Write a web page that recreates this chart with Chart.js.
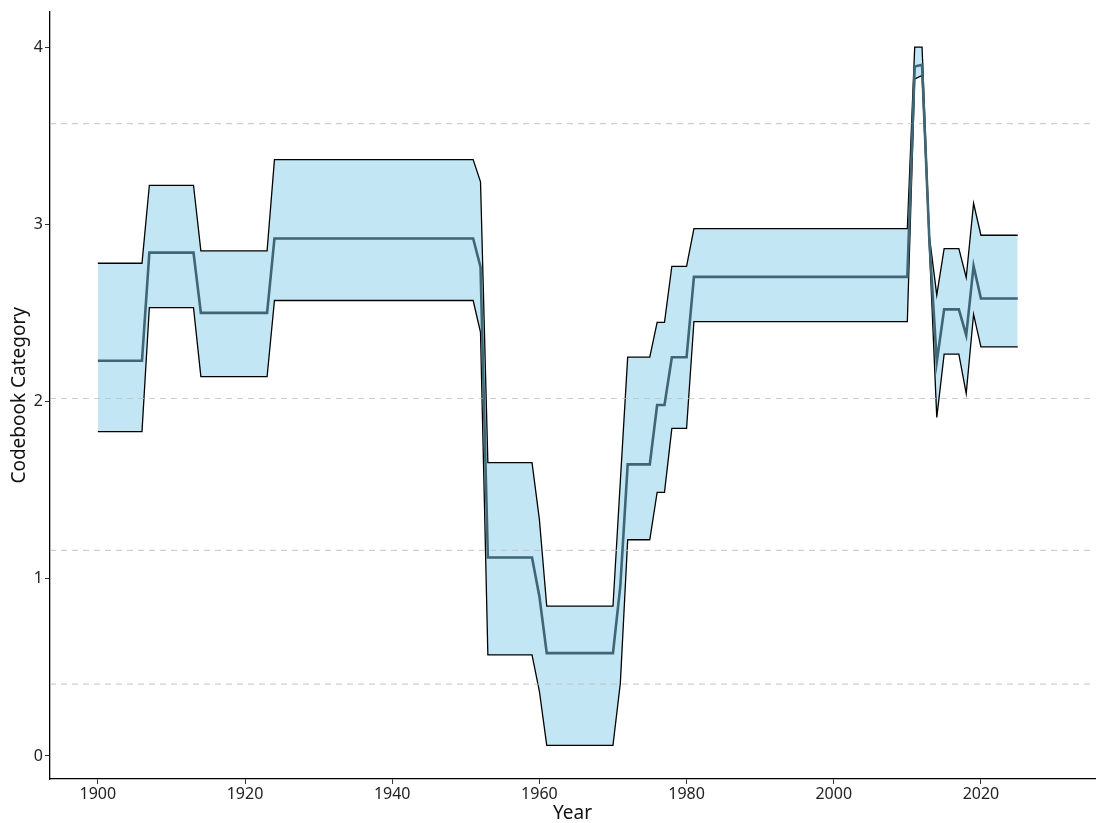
<!DOCTYPE html>
<html>
<head>
<meta charset="utf-8">
<script src="https://cdn.jsdelivr.net/npm/chart.js@4/dist/chart.umd.min.js"></script>
<style>
  body { margin: 0; background: #fff; }
</style>
</head>
<body>
<canvas id="chart" width="1097" height="823"></canvas>
<script>
const years = [
  1900,1901,1902,1903,1904,1905,1906,1907,1908,1909,1910,1911,1912,1913,1914,1915,1916,1917,1918,1919,
  1920,1921,1922,1923,1924,1925,1926,1927,1928,1929,1930,1931,1932,1933,1934,1935,1936,1937,1938,1939,
  1940,1941,1942,1943,1944,1945,1946,1947,1948,1949,1950,1951,1952,1953,1954,1955,1956,1957,1958,1959,
  1960,1961,1962,1963,1964,1965,1966,1967,1968,1969,1970,1971,1972,1973,1974,1975,1976,1977,1978,1979,
  1980,1981,1982,1983,1984,1985,1986,1987,1988,1989,1990,1991,1992,1993,1994,1995,1996,1997,1998,1999,
  2000,2001,2002,2003,2004,2005,2006,2007,2008,2009,2010,2011,2012,2013,2014,2015,2016,2017,2018,2019,
  2020,2021,2022,2023,2024,2025
];

const upper = [
  2.78,2.78,2.78,2.78,2.78,2.78,2.78,3.22,3.22,3.22,3.22,3.22,3.22,3.22,2.85,2.85,2.85,2.85,2.85,2.85,
  2.85,2.85,2.85,2.85,3.365,3.365,3.365,3.365,3.365,3.365,3.365,3.365,3.365,3.365,3.365,3.365,3.365,3.365,3.365,3.365,
  3.365,3.365,3.365,3.365,3.365,3.365,3.365,3.365,3.365,3.365,3.365,3.365,3.24,1.655,1.655,1.655,1.655,1.655,1.655,1.655,
  1.335,0.845,0.845,0.845,0.845,0.845,0.845,0.845,0.845,0.845,0.845,1.55,2.25,2.25,2.25,2.25,2.447,2.447,2.763,2.763,
  2.763,2.976,2.976,2.976,2.976,2.976,2.976,2.976,2.976,2.976,2.976,2.976,2.976,2.976,2.976,2.976,2.976,2.976,2.976,2.976,
  2.976,2.976,2.976,2.976,2.976,2.976,2.976,2.976,2.976,2.976,2.976,4.0,4.0,2.93,2.60,2.863,2.863,2.863,2.70,3.118,
  2.938,2.938,2.938,2.938,2.938,2.938
];

const mean = [
  2.23,2.23,2.23,2.23,2.23,2.23,2.23,2.84,2.84,2.84,2.84,2.84,2.84,2.84,2.50,2.50,2.50,2.50,2.50,2.50,
  2.50,2.50,2.50,2.50,2.92,2.92,2.92,2.92,2.92,2.92,2.92,2.92,2.92,2.92,2.92,2.92,2.92,2.92,2.92,2.92,
  2.92,2.92,2.92,2.92,2.92,2.92,2.92,2.92,2.92,2.92,2.92,2.92,2.76,1.12,1.12,1.12,1.12,1.12,1.12,1.12,
  0.90,0.58,0.58,0.58,0.58,0.58,0.58,0.58,0.58,0.58,0.58,0.96,1.645,1.645,1.645,1.645,1.98,1.98,2.25,2.25,
  2.25,2.703,2.703,2.703,2.703,2.703,2.703,2.703,2.703,2.703,2.703,2.703,2.703,2.703,2.703,2.703,2.703,2.703,2.703,2.703,
  2.703,2.703,2.703,2.703,2.703,2.703,2.703,2.703,2.703,2.703,2.703,3.89,3.90,2.90,2.224,2.52,2.52,2.52,2.374,2.765,
  2.581,2.581,2.581,2.581,2.581,2.581
];

const lower = [
  1.83,1.83,1.83,1.83,1.83,1.83,1.83,2.53,2.53,2.53,2.53,2.53,2.53,2.53,2.14,2.14,2.14,2.14,2.14,2.14,
  2.14,2.14,2.14,2.14,2.57,2.57,2.57,2.57,2.57,2.57,2.57,2.57,2.57,2.57,2.57,2.57,2.57,2.57,2.57,2.57,
  2.57,2.57,2.57,2.57,2.57,2.57,2.57,2.57,2.57,2.57,2.57,2.57,2.39,0.57,0.57,0.57,0.57,0.57,0.57,0.57,
  0.365,0.06,0.06,0.06,0.06,0.06,0.06,0.06,0.06,0.06,0.06,0.41,1.22,1.22,1.22,1.22,1.487,1.487,1.848,1.848,
  1.848,2.451,2.451,2.451,2.451,2.451,2.451,2.451,2.451,2.451,2.451,2.451,2.451,2.451,2.451,2.451,2.451,2.451,2.451,2.451,
  2.451,2.451,2.451,2.451,2.451,2.451,2.451,2.451,2.451,2.451,2.451,3.82,3.84,2.87,1.91,2.267,2.267,2.267,2.045,2.492,
  2.308,2.308,2.308,2.308,2.308,2.308
];

// category thresholds (dashed reference lines)
const thresholds = [0.405, 1.16, 2.017, 3.568];

const xTicks = [1900, 1920, 1940, 1960, 1980, 2000, 2020];
const yTicks = [0, 1, 2, 3, 4];

const xMin = 1893.5, xMax = 2035.5;
const toPoints = vals => years.map((yr, i) => ({ x: yr, y: vals[i] }));

const datasets = [
  {
    label: 'upper',
    data: toPoints(upper),
    borderColor: '#000',
    borderWidth: 1.3,
    backgroundColor: 'rgba(190,228,243,0.92)',
    fill: '+1',
    pointRadius: 0,
    order: 4
  },
  {
    label: 'lower',
    data: toPoints(lower),
    borderColor: '#000',
    borderWidth: 1.3,
    fill: false,
    pointRadius: 0,
    order: 3
  },
  ...thresholds.map(t => ({
    label: 'threshold',
    data: [{ x: xMin, y: t }, { x: xMax, y: t }],
    borderColor: 'rgba(190,190,190,0.75)',
    borderWidth: 1.2,
    borderDash: [6, 5],
    fill: false,
    pointRadius: 0,
    order: 2
  })),
  {
    label: 'mean',
    data: toPoints(mean),
    borderColor: '#3f6675',
    borderWidth: 2.6,
    fill: false,
    pointRadius: 0,
    order: 1
  }
];

const family = '"Noto Sans", "Open Sans", sans-serif';
const tickFont = { family, size: 16 };
const titleFont = { family, size: 19, lineHeight: 1 };

new Chart(document.getElementById('chart'), {
  type: 'line',
  data: { datasets },
  options: {
    responsive: false,
    animation: false,
    layout: { padding: { top: 2, right: 2, left: 0, bottom: 0 } },
    plugins: { legend: { display: false }, tooltip: { enabled: false } },
    scales: {
      x: {
        type: 'linear',
        min: xMin,
        max: xMax,
        afterBuildTicks: s => { s.ticks = xTicks.map(v => ({ value: v })); },
        afterFit: s => { s.height = 44; },
        ticks: { color: '#222', font: tickFont, padding: 1, maxRotation: 0, callback: v => String(v) },
        grid: { drawOnChartArea: false, drawTicks: true, tickLength: 5, color: '#333' },
        border: { display: true, color: '#000', width: 1.3 },
        title: { display: true, text: 'Year', color: '#111', font: titleFont, padding: { top: 0, bottom: 0 } }
      },
      y: {
        min: -0.13,
        max: 4.2,
        afterBuildTicks: s => { s.ticks = yTicks.map(v => ({ value: v })); },
        afterFit: s => { s.width = 50; },
        ticks: { color: '#222', font: tickFont, padding: 2 },
        grid: { drawOnChartArea: false, drawTicks: true, tickLength: 5, color: '#333' },
        border: { display: true, color: '#000', width: 1.3 },
        title: { display: true, text: 'Codebook Category', color: '#111', font: titleFont, padding: { top: 10, bottom: 0 } }
      }
    }
  }
});
</script>
</body>
</html>
